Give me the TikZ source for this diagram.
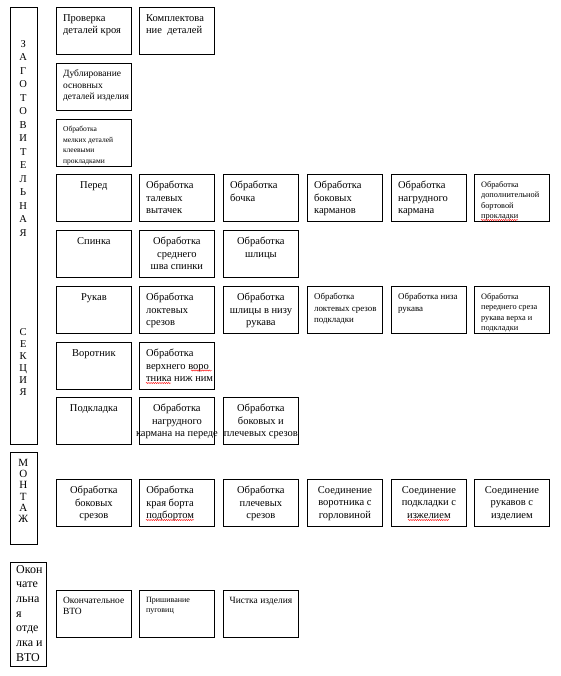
\documentclass[tikz,border=0pt]{standalone}
\usepackage{fontspec}
\setmainfont{Liberation Serif}
\usetikzlibrary{decorations.pathmorphing}
\newcommand\fBig{\fontsize{10.5}{12.5}\selectfont}
\newcommand\fMid{\fontsize{9.5}{11.5}\selectfont}
\newcommand\fSm{\fontsize{7.5}{10.5}\selectfont}
\newcommand\fSb{\fontsize{8.3}{10.5}\selectfont}
\newcommand\fEi{\fontsize{8.9}{11.5}\selectfont}
\newcommand\fXs{\fontsize{8}{10}\selectfont}
\newcommand\bx[6]{%
  \node[box] (#1) at (#2,-#3) {};
  \node[#4, font=#5] (#1t) at (#1.north) {#6};}
\begin{document}
\begin{tikzpicture}[x=1pt,y=1pt,
  box/.style={draw, line width=0.8pt, minimum width=75pt, minimum height=47pt, anchor=north west, inner sep=0pt},
  tl/.style={anchor=north west, align=left, inner sep=0pt, xshift=-31pt, yshift=-7pt},
  tc/.style={anchor=north, align=center, inner sep=0pt, yshift=-7pt},
  barbox/.style={draw, line width=0.8pt, anchor=north west, inner sep=0pt},
  bartxt/.style={anchor=north, align=center, inner sep=0pt},
  spell/.style={draw=red, line width=0.4pt, decorate, decoration={snake, amplitude=0.6pt, segment length=2.2pt}}]
\fill[white] (0,0) rectangle (560,-676);
\useasboundingbox (0,0) rectangle (560,-676);
% side bars
\node[barbox, minimum width=27.5pt, minimum height=437pt] (zag) at (9.5,-7) {};
\node[bartxt, font={\fontsize{10.5}{13.5}\selectfont}] (zagt) at (23.25,-40) {З\\А\\Г\\О\\Т\\О\\В\\И\\Т\\Е\\Л\\Ь\\Н\\А\\Я};
\node[bartxt, font={\fontsize{10.5}{12}\selectfont}] (sekt) at (23.25,-328) {С\\Е\\К\\Ц\\И\\Я};
\node[barbox, minimum width=27.5pt, minimum height=92pt] (mon) at (9.5,-452) {};
\node[bartxt, font={\fontsize{11}{11.2}\selectfont}] (mont) at (23.25,-459) {М\\О\\Н\\Т\\А\\Ж};
\node[barbox, minimum width=36.5pt, minimum height=104pt] (okn) at (9.5,-562) {};
\node[anchor=north west, align=left, inner sep=0pt, font={\fontsize{12}{14.7}\selectfont}] (oknt) at (16,-565) {Окон\\чате\\льна\\я\\отде\\лка и\\ВТО};
% row 1
\bx{a1}{56}{7}{tl}{\fBig}{Проверка\\деталей кроя}
\bx{a2}{139}{7}{tl}{\fBig}{Комплектова\\ние\ \ деталей}
% row 2
\bx{b1}{56}{63}{tl}{\fMid}{Дублирование\\основных\\деталей изделия}
% row 3
\bx{c1}{56}{119}{tl}{\fSm}{Обработка\\мелких деталей\\клеевыми\\прокладками}
% row 4
\bx{d1}{56}{174}{tc}{\fBig}{Перед}
\bx{d2}{139}{174}{tl}{\fBig}{Обработка\\талевых\\вытачек}
\bx{d3}{223}{174}{tl}{\fBig}{Обработка\\бочка}
\bx{d4}{307}{174}{tl}{\fBig}{Обработка\\боковых\\карманов}
\bx{d5}{391}{174}{tl}{\fBig}{Обработка\\нагрудного\\кармана}
\bx{d6}{474}{174}{tl}{\fSb}{Обработка\\дополнительной\\бортовой\\прокладки}
% row 5
\bx{e1}{56}{230}{tc}{\fBig}{Спинка}
\bx{e2}{139}{230}{tc}{\fBig}{Обработка\\среднего\\шва спинки}
\bx{e3}{223}{230}{tc}{\fBig}{Обработка\\шлицы}
% row 6
\bx{f1}{56}{286}{tc}{\fBig}{Рукав}
\bx{f2}{139}{286}{tl}{\fBig}{Обработка\\локтевых\\срезов}
\bx{f3}{223}{286}{tc}{\fBig}{Обработка\\шлицы в низу\\рукава}
\bx{f4}{307}{286}{tl}{\fEi}{Обработка\\локтевых срезов\\подкладки}
\bx{f5}{391}{286}{tl}{\fEi}{Обработка низа\\рукава}
\bx{f6}{474}{286}{tl}{\fSb}{Обработка\\переднего среза\\рукава верха и\\подкладки}
% row 7
\bx{g1}{56}{342}{tc}{\fBig}{Воротник}
\bx{g2}{139}{342}{tl}{\fBig}{Обработка\\верхнего воро\\тника ниж ним}
% row 8
\bx{h1}{56}{397}{tc}{\fBig}{Подкладка}
\bx{h2}{139}{397}{tc}{\fBig}{Обработка\\нагрудного\\кармана на переде}
\bx{h3}{223}{397}{tc}{\fBig}{Обработка\\боковых и\\плечевых срезов}
% montage row
\bx{m1}{56}{479}{tc}{\fBig}{Обработка\\боковых\\срезов}
\node[box, line width=1.1pt] (m2) at (139,-479) {};
\node[tl, font=\fBig] (m2t) at (m2.north) {Обработка\\края борта\\подбортом};
\bx{m3}{223}{479}{tc}{\fBig}{Обработка\\плечевых\\срезов}
\bx{m4}{307}{479}{tc}{\fBig}{Соединение\\воротника с\\горловиной}
\bx{m5}{391}{479}{tc}{\fBig}{Соединение\\подкладки с\\изжелием}
\bx{m6}{474}{479}{tc}{\fBig}{Соединение\\рукавов с\\изделием}
% final row
\bx{k1}{56}{590}{tl}{\fMid}{Окончательное\\ВТО}
\bx{k2}{139}{590}{tl}{\fXs}{Пришивание\\пуговиц}
\bx{k3}{223}{590}{tc}{\fMid}{Чистка изделия}
% spell-check squiggles
\coordinate (s1a) at (481,-220); \coordinate (s1b) at (518,-220);
\coordinate (s2a) at (191,-370.5); \coordinate (s2b) at (212,-370.5);
\coordinate (s3a) at (146,-383); \coordinate (s3b) at (171,-383);
\coordinate (s4a) at (146,-520); \coordinate (s4b) at (194,-520);
\coordinate (s5a) at (408,-520); \coordinate (s5b) at (449,-520);
\draw[spell] (s1a) -- (s1b);
\draw[spell] (s2a) -- (s2b);
\draw[spell] (s3a) -- (s3b);
\draw[spell] (s4a) -- (s4b);
\draw[spell] (s5a) -- (s5b);
\end{tikzpicture}
\end{document}
